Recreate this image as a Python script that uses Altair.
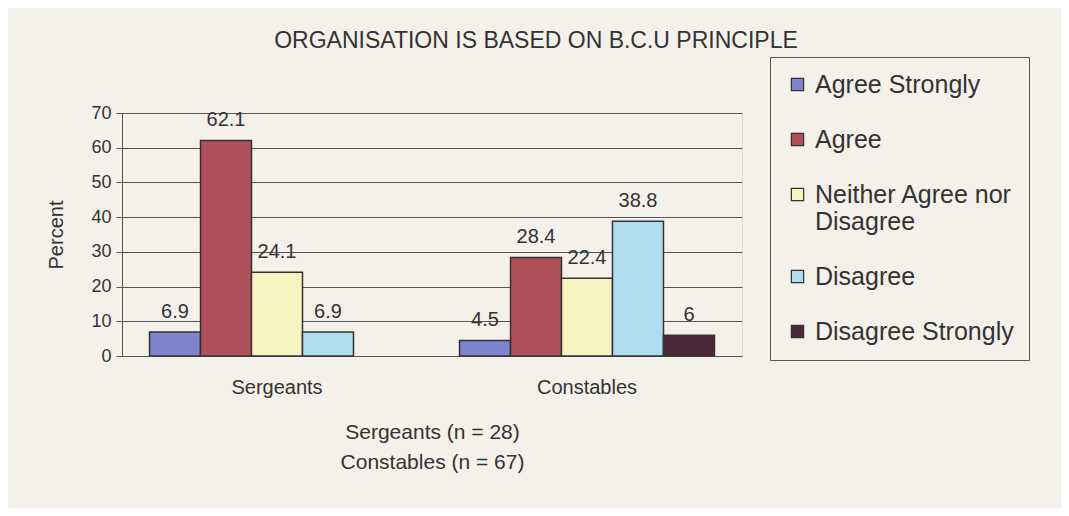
import altair as alt
import pandas as pd

groups = ["Sergeants", "Constables"]
responses = ["Agree Strongly", "Agree", "Neither Agree nor Disagree", "Disagree", "Disagree Strongly"]
sergeants = [6.9, 62.1, 24.1, 6.9, None]
constables = [4.5, 28.4, 22.4, 38.8, 6]
colors = ["#7d83cc", "#b0505b", "#f8f4c2", "#b0dcef", "#4a2838"]

rows = []
for g, vals in zip(groups, [sergeants, constables]):
    for r, v in zip(responses, vals):
        if v is not None:
            rows.append({"group": g, "response": r, "value": v})
df = pd.DataFrame(rows)

FONT = "Liberation Sans"
TXT = "#333333"
BG = "#f4f0ea"

x = alt.X("group:N", sort=groups,
          scale=alt.Scale(paddingInner=0, paddingOuter=0),
          axis=alt.Axis(title=["Sergeants (n = 28)", "Constables (n = 67)"],
                        titleFontSize=21, titleFontWeight="normal", titleLineHeight=30,
                        titlePadding=24, labelAngle=0, labelFontSize=20, labelPadding=21,
                        ticks=False, domainColor="#555555", labelColor=TXT, titleColor=TXT))
xo = alt.XOffset("response:N", sort=responses,
                 scale=alt.Scale(domain=responses, paddingInner=0, paddingOuter=0.54))
y = alt.Y("value:Q", scale=alt.Scale(domain=[0, 70]),
          axis=alt.Axis(title="Percent", values=[0, 10, 20, 30, 40, 50, 60, 70],
                        labelOverlap=False, titleFontSize=20,
                        titleFontWeight="normal", titlePadding=24, labelFontSize=18,
                        labelPadding=5, tickSize=6, domainColor="#555555", tickColor="#555555",
                        gridColor="#555555", gridWidth=1, labelColor=TXT, titleColor=TXT))

bars = alt.Chart(df).mark_bar(stroke="#333333", strokeWidth=1.5).encode(
    x=x, xOffset=xo, y=y,
    color=alt.Color("response:N", sort=responses,
                    scale=alt.Scale(domain=responses, range=colors),
                    legend=alt.Legend(
                        title=None, orient="none", legendX=648, legendY=-56,
                        strokeColor="#555555", fillColor=BG, padding=15,
                        labelFontSize=25, labelColor=TXT, labelLimit=400,
                        symbolType="square", symbolSize=150, symbolStrokeColor="#333333",
                        symbolStrokeWidth=1.2, symbolOpacity=1, rowPadding=29,
                        labelOffset=5, labelBaseline="middle",
                        labelExpr="datum.label == 'Neither Agree nor Disagree' ? ['Neither Agree nor', 'Disagree'] : datum.label")),
)

labels = alt.Chart(df).mark_text(baseline="bottom", dy=-10, fontSize=20, color=TXT, font=FONT).encode(
    x=x, xOffset=xo, y=y,
    text=alt.Text("value:Q", format="~g"),
)

chart = alt.layer(bars, labels).properties(
    width=620, height=243,
    background=BG,
    padding={"left": 114, "top": 105, "right": 319, "bottom": 152},
    autosize=alt.AutoSizeParams(type="none"),
    title=alt.TitleParams("ORGANISATION IS BASED ON B.C.U PRINCIPLE", fontSize=23,
                          fontWeight="normal", color=TXT, font=FONT, offset=4, dx=104,
                          anchor="middle"),
).configure_view(stroke=None).configure(font=FONT)

chart.save("out.html", embed_options={"renderer": "svg", "actions": False})
